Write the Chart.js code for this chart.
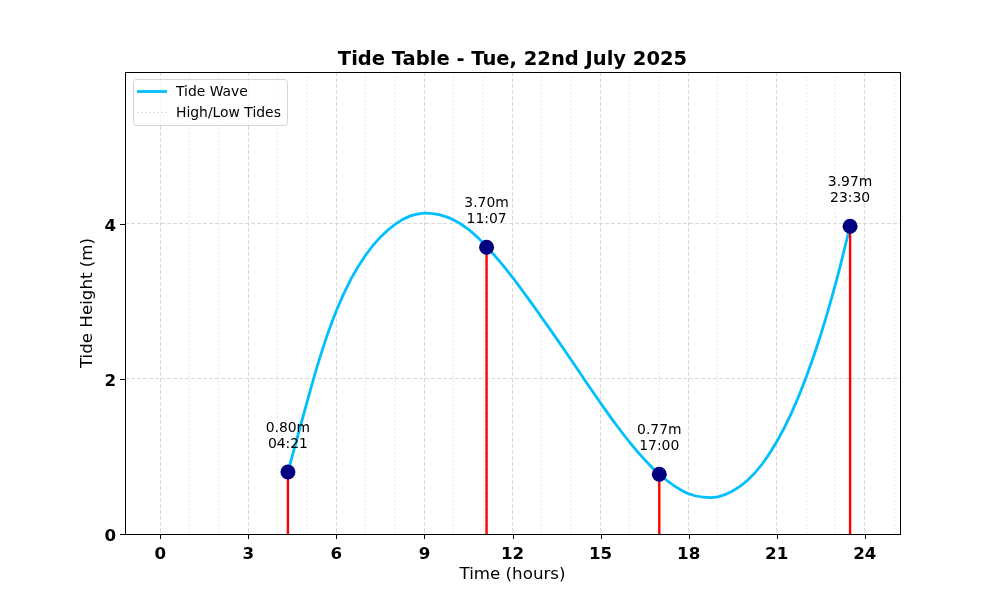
<!DOCTYPE html>
<html lang="en">
<head>
    <meta charset="UTF-8">
    <title>Tide Table - Tue, 22nd July 2025</title>
    <script src="https://cdn.jsdelivr.net/npm/chart.js"></script>
    <style>
        body {
            margin: 0;
            background-color: #fff;
        }
        .wrap {
            width: 1000px;
            height: 600px;
        }
    </style>
</head>
<body>
    <div class="wrap">
        <canvas id="tideChart"></canvas>
    </div>

    <script>
        // high / low tides
        const tideTimes = ['04:21', '11:07', '17:00', '23:30'];
        const tideHeights = [0.80, 3.70, 0.77, 3.97];

        // tide wave
        const waveHours = [4.35, 5, 5.5, 6, 6.5, 7, 7.5, 8, 8.5, 9, 9.5, 10, 10.5, 11,
            11.5, 12, 12.5, 13, 13.5, 14, 14.5, 15, 15.5, 16, 16.5, 17, 17.5, 18, 18.5,
            19, 19.5, 20, 20.5, 21, 21.5, 22, 22.5, 23, 23.5];
        const waveHeights = [0.80, 1.70, 2.35, 2.88, 3.29, 3.60, 3.83, 3.995, 4.10, 4.14, 4.12, 4.05, 3.93, 3.755,
            3.545, 3.31, 3.055, 2.79, 2.52, 2.245, 1.965, 1.69, 1.425, 1.18, 0.96, 0.77, 0.625, 0.52, 0.475,
            0.48, 0.555, 0.69, 0.90, 1.19, 1.56, 2.02, 2.57, 3.22, 3.97];

        const xTicks = [0, 3, 6, 9, 12, 15, 18, 21, 24];
        const yTicks = [0, 2, 4];

        const FONT = "'DejaVu Sans', sans-serif";

        function toHours(t) {
            const p = t.split(':');
            return parseInt(p[0]) + parseInt(p[1]) / 60;
        }
        const tideHours = tideTimes.map(toHours);

        const wavePoints = waveHours.map((h, i) => ({ x: h, y: waveHeights[i] }));
        const tidePoints = tideHours.map((h, i) => ({ x: h, y: tideHeights[i] }));
        // stems from 0 up to each tide, broken with nulls
        const stemPoints = [];
        tideHours.forEach((h, i) => {
            stemPoints.push({ x: h, y: 0 }, { x: h, y: tideHeights[i] }, { x: h, y: null });
        });

        // frame, tick marks, annotations and legend
        const extras = {
            id: 'extras',
            afterDraw(chart) {
                const c = chart.ctx;
                const a = chart.chartArea;
                const sx = chart.scales.x;
                const sy = chart.scales.y;
                c.save();

                // tick marks
                c.strokeStyle = '#000';
                c.lineWidth = 1;
                c.beginPath();
                xTicks.forEach(v => {
                    const px = Math.round(sx.getPixelForValue(v)) + 0.5;
                    c.moveTo(px, a.bottom);
                    c.lineTo(px, a.bottom + 5);
                });
                yTicks.forEach(v => {
                    const py = Math.round(sy.getPixelForValue(v)) + 0.5;
                    c.moveTo(a.left, py);
                    c.lineTo(a.left - 5, py);
                });
                c.stroke();

                // frame
                c.strokeRect(Math.round(a.left) + 0.5, Math.round(a.top) + 0.5,
                    Math.round(a.right - a.left), Math.round(a.bottom - a.top));

                // tide annotations
                c.fillStyle = '#000';
                c.font = '13.9px ' + FONT;
                c.textAlign = 'center';
                c.textBaseline = 'middle';
                tideHours.forEach((h, i) => {
                    const px = sx.getPixelForValue(h);
                    const py = sy.getPixelForValue(tideHeights[i]);
                    c.fillText(tideHeights[i].toFixed(2) + 'm', px, py - 44);
                    c.fillText(tideTimes[i], px, py - 28);
                });

                // legend
                const lx = a.left + 8, ly = a.top + 8;
                c.beginPath();
                c.roundRect(lx + 0.5, ly - 0.5, 154, 46, 3);
                c.fillStyle = 'rgba(255,255,255,0.8)';
                c.fill();
                c.strokeStyle = '#d5d5d5';
                c.stroke();

                const ds = chart.data.datasets;
                c.textAlign = 'left';
                c.fillStyle = '#000';
                c.strokeStyle = ds[2].borderColor;
                c.lineWidth = 2.8;
                c.beginPath();
                c.moveTo(lx + 4, ly + 11.5);
                c.lineTo(lx + 34, ly + 11.5);
                c.stroke();
                c.fillText(ds[2].label, lx + 43, ly + 12.5);

                c.strokeStyle = '#d8d8d8';
                c.lineWidth = 0.8;
                c.setLineDash([2, 2]);
                c.beginPath();
                c.moveTo(lx + 4, ly + 32.5);
                c.lineTo(lx + 34, ly + 32.5);
                c.stroke();
                c.setLineDash([]);
                c.fillText(ds[1].label, lx + 43, ly + 33);

                c.restore();
            }
        };

        const ctx = document.getElementById('tideChart').getContext('2d');
        const tideChart = new Chart(ctx, {
            type: 'line',
            data: {
                datasets: [
                    {
                        label: 'Tides',
                        type: 'scatter',
                        data: tidePoints,
                        backgroundColor: '#000080',
                        borderColor: '#000080',
                        pointRadius: 7.5,
                        pointBorderWidth: 0
                    },
                    {
                        label: 'High/Low Tides',
                        data: stemPoints,
                        borderColor: '#ff0000',
                        borderWidth: 2.4,
                        pointRadius: 0,
                        spanGaps: false,
                        fill: false
                    },
                    {
                        label: 'Tide Wave',
                        data: wavePoints,
                        borderColor: '#00bfff',
                        borderWidth: 2.8,
                        pointRadius: 0,
                        tension: 0.4,
                        fill: false
                    }
                ]
            },
            options: {
                responsive: true,
                maintainAspectRatio: false,
                animation: false,
                devicePixelRatio: 1,
                layout: {
                    padding: { left: 78, right: 100, top: 0, bottom: 15 }
                },
                plugins: {
                    legend: { display: false },
                    tooltip: { enabled: false },
                    title: {
                        display: true,
                        fullSize: false,
                        text: 'Tide Table - Tue, 22nd July 2025',
                        color: '#000',
                        font: { family: FONT, size: 19.5, weight: 'bold' },
                        padding: { top: 48.3, bottom: 0.3 }
                    }
                },
                scales: {
                    x: {
                        type: 'linear',
                        min: -1.2,
                        max: 25.2,
                        afterFit(scale) { scale.height = 51; },
                        ticks: {
                            stepSize: 3,
                            includeBounds: false,
                            color: '#000',
                            padding: 11,
                            maxRotation: 0,
                            font: { family: FONT, size: 16.7, weight: 'bold' }
                        },
                        grid: {
                            color: '#cfcfcf',
                            lineWidth: 0.8,
                            drawTicks: false
                        },
                        border: { display: false, dash: [4, 2] },
                        title: {
                            display: true,
                            text: 'Time (hours)',
                            color: '#000',
                            padding: 0,
                            font: { family: FONT, size: 16.7 }
                        }
                    },
                    xMinor: {
                        type: 'linear',
                        position: 'bottom',
                        min: -1.2,
                        max: 25.2,
                        afterFit(scale) { scale.height = 0; },
                        ticks: { stepSize: 1, includeBounds: false, display: false },
                        grid: {
                            color: c => (c.tick.value < 0 || c.tick.value % 3 === 0) ? 'rgba(0,0,0,0)' : '#e2e2e2',
                            lineWidth: 0.7,
                            drawTicks: false
                        },
                        border: { display: false, dash: [2, 2] }
                    },
                    y: {
                        min: 0,
                        max: 5.96,
                        afterFit(scale) { scale.width = 47; },
                        ticks: {
                            stepSize: 2,
                            includeBounds: false,
                            color: '#000',
                            padding: 9,
                            labelOffset: 2.5,
                            font: { family: FONT, size: 16.7, weight: 'bold' }
                        },
                        grid: {
                            color: '#cfcfcf',
                            lineWidth: 0.8,
                            drawTicks: false
                        },
                        border: { display: false, dash: [4, 2] },
                        title: {
                            display: true,
                            text: 'Tide Height (m)',
                            color: '#000',
                            padding: 0,
                            font: { family: FONT, size: 16.7 }
                        }
                    }
                }
            },
            plugins: [extras]
        });
    </script>
</body>
</html>
